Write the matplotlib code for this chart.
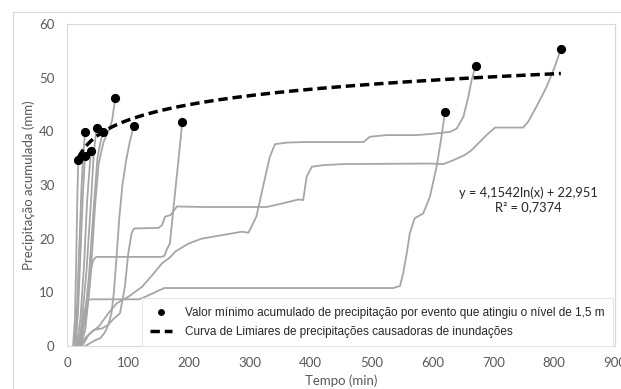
import numpy as np
import matplotlib
matplotlib.use("Agg")
import matplotlib.pyplot as plt
from matplotlib.patches import Rectangle

# ---------------- data ----------------
# threshold points (minimum accumulated rainfall reaching 1.5 m)
pt_t = [18.6, 29.6, 29.6, 39.4, 48.7, 59.6, 79.3, 109.5, 189.3, 620.7, 671.0, 811.0]
pt_p = [34.6, 39.8, 35.4, 36.3, 40.7, 39.8, 46.2, 41.0, 41.7, 43.6, 52.2, 55.3]

# accumulated rainfall curves per event (time in min, precip in mm)
ev1_t = [10, 13, 15, 17, 18.6]
ev1_p = [0, 5, 15, 28, 34.6]
ev2_t = [12, 16, 20, 24, 27, 29.6]
ev2_p = [0, 6, 18, 30, 36, 39.8]
ev3_t = [14, 18, 22, 26, 29.6]
ev3_p = [0, 6, 17, 28, 35.4]
ev4_t = [16, 22, 28, 33, 37, 39.4]
ev4_p = [0, 5, 15, 27, 33, 36.3]
ev5_t = [18, 24, 32, 40, 44, 48.7]
ev5_p = [0, 4, 14, 28, 36, 40.7]
ev6_t = [20, 28, 36, 44, 50, 55, 59.6]
ev6_p = [0, 4, 13, 26, 35, 38, 39.8]
ev7_t = [22, 30, 38, 46, 52, 60, 70, 74, 79.3]
ev7_p = [0, 3, 12, 26, 34, 38, 40.5, 42, 46.2]
ev8_t = [30, 45, 55, 62, 68, 73, 77, 81, 86, 91, 97, 103, 109.5]
ev8_p = [0, 1, 1.5, 2.5, 4, 6.1, 10, 16, 24, 30, 34.5, 38, 41.0]
ev9_t = [18, 25, 32, 36, 39, 43, 48, 100, 155, 160, 164, 169, 174.5, 183, 189.3]
ev9_p = [0, 2, 6, 10, 14, 16, 16.6, 16.6, 16.6, 16.8, 18, 19.1, 25.3, 34.6, 41.7]
ev10_t = [20, 24, 28, 33, 40, 118, 125, 135, 148, 160, 200, 536, 547, 552, 558, 563,
          571, 585, 596, 607, 615, 620.7]
ev10_p = [0, 3, 6, 8.5, 8.7, 8.7, 9.0, 9.5, 10.2, 10.8, 10.8, 10.8, 11.2, 13.5, 17.3, 21,
          23.8, 24.7, 27.8, 33.4, 39, 43.6]
ev11_t = [22, 30, 41, 52, 68, 82, 101, 123, 140, 156, 169, 178, 191, 200, 221, 257, 287,
          298, 311, 322, 333, 341.5, 361, 388, 487, 497.5, 525, 574, 596, 629, 640, 651,
          659, 664.5, 671]
ev11_p = [0, 1.5, 2.7, 3.6, 6.1, 8.0, 9.2, 11, 13.2, 15.4, 16.5, 17.6, 18.5, 19.1, 20.0,
          20.7, 21.3, 21.1, 24.1, 29.7, 35.2, 37.6, 37.9, 38.0, 38.0, 39.0, 39.3, 39.3,
          39.5, 39.9, 40.5, 42.7, 46.4, 49.5, 52.2]
ev12_t = [25, 35, 45, 58, 68, 76, 87, 95, 100.7, 106, 110, 150, 156, 161, 170, 180.6, 224,
          328, 355, 380, 388, 393.5, 402, 421, 454, 596, 618, 634, 653.5, 664.5, 675, 689,
          703, 749, 757.5, 771, 787.7, 801, 811]
ev12_p = [0, 2, 3, 3.3, 4, 5, 6.1, 11, 17.3, 21, 21.9, 22, 22.5, 24.1, 24.4, 26.0, 25.9,
          25.9, 26.6, 27.3, 27.2, 31.5, 33.4, 33.7, 33.9, 34.0, 33.9, 34.6, 35.6, 36.5,
          37.7, 39.3, 40.7, 40.7, 41.8, 44.6, 48.3, 52.0, 55.3]

events = [(ev1_t, ev1_p), (ev2_t, ev2_p), (ev3_t, ev3_p), (ev4_t, ev4_p),
          (ev5_t, ev5_p), (ev6_t, ev6_p), (ev7_t, ev7_p), (ev8_t, ev8_p),
          (ev9_t, ev9_p), (ev10_t, ev10_p), (ev11_t, ev11_p), (ev12_t, ev12_p)]

# logarithmic trendline coefficients (as printed on the chart)
fit_a = 4.1542
fit_b = 22.951
fit_r2 = 0.7374

x_ticks = [0, 100, 200, 300, 400, 500, 600, 700, 800, 900]
y_ticks = [0, 10, 20, 30, 40, 50, 60]

# ---------------- figure ----------------
W, H = 621, 389
fig = plt.figure(figsize=(W / 100, H / 100), dpi=100)
fig.patch.set_facecolor("white")

# chart-area border
fig.patches.append(Rectangle((13 / W, -0.1), 1.2, 1 - 12 / H + 0.1,
                             transform=fig.transFigure, fill=False,
                             edgecolor="#d9d9d9", linewidth=0.8))

L, R, T, B = 67, 615, 24, 346
ax = fig.add_axes([L / W, 1 - B / H, (R - L) / W, (B - T) / H])

tick_font = "Lato"
grey = "#a6a6a6"

for t, p in events:
    ax.plot(t, p, color=grey, lw=1.3, solid_joinstyle="round", zorder=2)

xf = np.linspace(min(pt_t), max(pt_t), 400)
ax.plot(xf, fit_a * np.log(xf) + fit_b, color="black", lw=2.5,
        linestyle=(0, (2.7, 1.4)), zorder=3,
        label="Curva de Limiares de precipitações causadoras de inundações")
ax.plot(pt_t, pt_p, "o", color="black", ms=5.6, zorder=4,
        label="Valor mínimo acumulado de precipitação por evento que atingiu o nível de 1,5 m")

ax.set_xlim(0, 900)
ax.set_ylim(0, 60)
ax.set_xticks(x_ticks)
ax.set_yticks(y_ticks)
ax.tick_params(length=0, labelsize=9.5, labelcolor="#595959")
ax.tick_params(axis="y", pad=9)
ax.tick_params(axis="x", pad=8)
for lab in ax.get_xticklabels() + ax.get_yticklabels():
    lab.set_fontfamily(tick_font)
for s in ax.spines.values():
    s.set_color("#d9d9d9")
    s.set_linewidth(0.8)

ax.set_xlabel("Tempo (min)", fontsize=9.5, color="#595959", family=tick_font, labelpad=4)
ax.set_ylabel("Precipitação acumulada (mm)", fontsize=9.5, color="#595959",
              family=tick_font, labelpad=3)

handles, labels = ax.get_legend_handles_labels()
leg = ax.legend(handles[::-1], labels[::-1], loc="lower right",
                bbox_to_anchor=(0.997, 0.0), borderaxespad=0, frameon=True,
                fancybox=False, framealpha=1, edgecolor="#e6e6e6",
                prop={"family": "Liberation Sans", "size": 8.5},
                handlelength=1.9, handletextpad=1.1, borderpad=0.7,
                labelspacing=0.6, markerscale=0.7)
leg.get_frame().set_linewidth(0.8)
for txt in leg.get_texts():
    txt.set_color("#262626")

ax.text(758, 27.2, "y = 4,1542ln(x) + 22,951\nR² = 0,7374", ha="center", va="center",
        fontsize=9.3, family=tick_font, color="#262626", linespacing=1.2)

fig.savefig("out.png", dpi=100)
